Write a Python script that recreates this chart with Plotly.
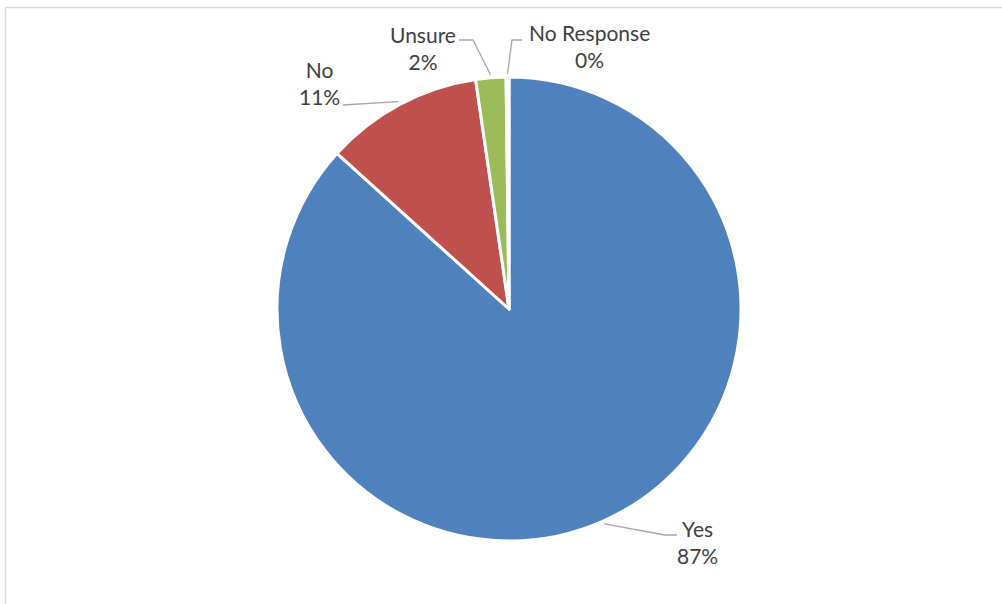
import math
import plotly.graph_objects as go

# Survey responses (share of respondents, %)
categories = ["Yes", "No", "Unsure", "No Response"]
shares = [86.7, 11.0, 2.1, 0.2]
colors = ["#4F81BD", "#C0504D", "#9BBB59", "#8064A2"]

W, H = 1002, 604
CX, CY, R = 509, 309, 232          # pie centre and radius in pixels

# label placement: text block centre, elbow point and end of leader line (px)
label_layout = {
    "Yes":         {"text": (697, 542), "elbow": (665, 535), "end": (677, 535)},
    "No":          {"text": (319, 83),  "elbow": None,       "end": (343, 105)},
    "Unsure":      {"text": (423, 48),  "elbow": (473, 40),  "end": (459, 40)},
    "No Response": {"text": (589, 46),  "elbow": (512, 40),  "end": (522, 40)},
}


def px(x, y):
    return x / W, 1 - y / H


fig = go.Figure(
    go.Pie(
        labels=categories,
        values=shares,
        sort=False,
        direction="clockwise",
        rotation=0,
        marker=dict(colors=colors, line=dict(color="white", width=3)),
        textinfo="none",
        hoverinfo="label+percent",
        showlegend=False,
        domain=dict(x=[(CX - R) / W, (CX + R) / W],
                    y=[1 - (CY + R) / H, 1 - (CY - R) / H]),
    )
)

total = sum(shares)
annotations, shapes = [], []
start = 0.0
for cat, val in zip(categories, shares):
    frac = val / total
    mid = (start + frac / 2) * 2 * math.pi
    start += frac
    # point just outside the rim at the middle of the slice
    ax = CX + (R + 3) * math.sin(mid)
    ay = CY - (R + 3) * math.cos(mid)
    lay = label_layout[cat]
    pts = [(ax, ay)]
    if lay["elbow"]:
        pts.append(lay["elbow"])
    pts.append(lay["end"])
    path = "M " + " L ".join(f"{px(x, y)[0]:.5f},{px(x, y)[1]:.5f}" for x, y in pts)
    shapes.append(dict(type="path", xref="paper", yref="paper", path=path,
                       line=dict(color="#A6A6A6", width=1.3)))
    tx, ty = px(*lay["text"])
    annotations.append(dict(
        x=tx, y=ty, xref="paper", yref="paper", xanchor="center", yanchor="middle",
        text=f"{cat}<br>{round(frac * 100):.0f}%", showarrow=False, align="center",
        font=dict(family="Lato", size=21, color="#404040"),
    ))

# chart frame (top and left edges)
shapes.append(dict(type="line", xref="paper", yref="paper",
                   x0=5.5 / W, x1=1.0, y0=1 - 7.5 / H, y1=1 - 7.5 / H,
                   line=dict(color="#D9D9D9", width=1.5)))
shapes.append(dict(type="line", xref="paper", yref="paper",
                   x0=5.5 / W, x1=5.5 / W, y0=0, y1=1 - 7.5 / H,
                   line=dict(color="#D9D9D9", width=1.5)))

fig.update_layout(
    width=W, height=H,
    margin=dict(l=0, r=0, t=0, b=0),
    paper_bgcolor="white", plot_bgcolor="white",
    annotations=annotations, shapes=shapes,
)

fig.write_html("out.html")
